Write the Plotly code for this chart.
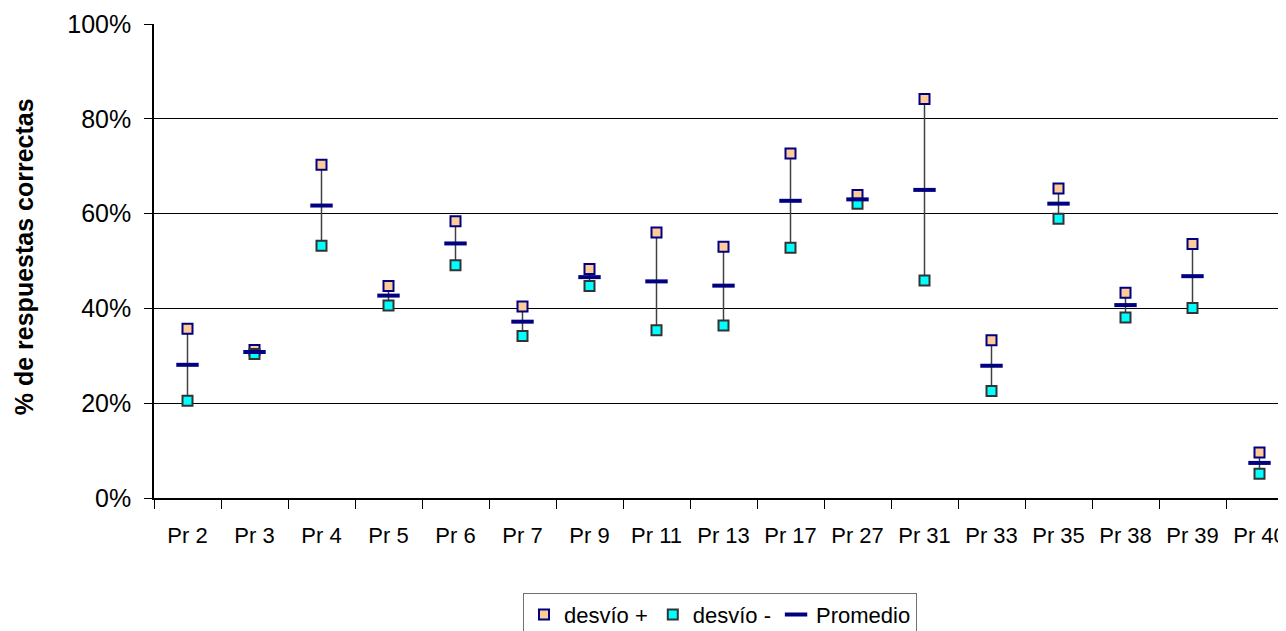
import plotly.graph_objects as go

categories = ["Pr 2", "Pr 3", "Pr 4", "Pr 5", "Pr 6", "Pr 7", "Pr 9", "Pr 11", "Pr 13",
              "Pr 17", "Pr 27", "Pr 31", "Pr 33", "Pr 35", "Pr 38", "Pr 39", "Pr 40"]
desvio_mas = [0.357, 0.312, 0.703, 0.447, 0.584, 0.404, 0.483, 0.560, 0.530,
              0.727, 0.639, 0.842, 0.333, 0.653, 0.433, 0.536, 0.096]
desvio_menos = [0.205, 0.304, 0.532, 0.406, 0.491, 0.342, 0.447, 0.354, 0.364,
                0.528, 0.621, 0.459, 0.226, 0.589, 0.381, 0.401, 0.051]
promedio = [0.281, 0.308, 0.617, 0.427, 0.537, 0.372, 0.466, 0.457, 0.448,
            0.627, 0.630, 0.650, 0.279, 0.621, 0.407, 0.468, 0.074]
y_ticks = [0, 0.2, 0.4, 0.6, 0.8, 1.0]

FONT = "Liberation Sans, Arial, sans-serif"

# high-low connector lines built from the data
lx, ly = [], []
for c, hi, lo in zip(categories, desvio_mas, desvio_menos):
    lx += [c, c, None]
    ly += [hi, lo, None]

fig = go.Figure()
fig.add_trace(go.Scatter(x=lx, y=ly, mode="lines", line=dict(color="#404040", width=1.5),
                         showlegend=False, hoverinfo="skip"))
fig.add_trace(go.Scatter(x=categories, y=desvio_mas, mode="markers", name="desvío +",
                         marker=dict(symbol="square", size=10, color="#FFCC99",
                                     line=dict(color="#000080", width=2))))
fig.add_trace(go.Scatter(x=categories, y=desvio_menos, mode="markers", name="desvío -",
                         marker=dict(symbol="square", size=10, color="#00FFFF",
                                     line=dict(color="#333333", width=2))))
fig.add_trace(go.Scatter(x=categories, y=promedio, mode="markers", name="Promedio",
                         marker=dict(symbol="line-ew", size=16, color="#000080",
                                     line=dict(color="#000080", width=4))))

n = len(categories)
W, H = 1278, 623
L, T, PH = 146, 16, 474
xr = [-0.5, -0.5 + (W - L) / 67]

fig.update_layout(
    width=W, height=H,
    margin=dict(l=L, r=0, t=T, b=H - T - PH, autoexpand=False),
    plot_bgcolor="white", paper_bgcolor="white",
    font=dict(family=FONT, color="black"),
    showlegend=True,
    legend=dict(orientation="h", x=0.5, xanchor="center", y=-0.2, yanchor="top",
                font=dict(size=22, family=FONT), bordercolor="#707070", borderwidth=1,
                bgcolor="white", itemwidth=30),
    xaxis=dict(type="category", categoryorder="array", categoryarray=categories,
               range=xr, tickson="boundaries", ticks="outside", ticklen=9,
               tickcolor="black", tickwidth=1, showline=True, linecolor="black",
               linewidth=1.5, showgrid=False, tickfont=dict(size=22, family=FONT),
               ticklabelstandoff=17),
    yaxis=dict(range=[0, 1], tickvals=y_ticks, tickformat=".0%", ticks="outside",
               ticklen=8, tickcolor="black", showline=True, linecolor="black",
               linewidth=1.5, showgrid=True, gridcolor="black", gridwidth=1,
               zeroline=False, tickfont=dict(size=25, family=FONT), ticklabelstandoff=8),
    xaxis2=dict(overlaying="x", anchor="y", range=xr,
                tickvals=[i + 0.5 for i in range(n - 1)], ticks="inside", ticklen=9,
                tickcolor="black", showticklabels=False, showgrid=False,
                showline=False, zeroline=False),
    yaxis2=dict(overlaying="y", anchor="x", side="left", range=[0, 1], tickvals=y_ticks,
                ticks="inside", ticklen=8, tickcolor="black", showticklabels=False,
                showgrid=False, showline=False, zeroline=False),
    annotations=[dict(text="<b>% de respuestas correctas</b>", xref="paper", yref="paper",
                      x=(24 - 154) / (W - L), y=0.508, xanchor="center", yanchor="middle",
                      textangle=-90, showarrow=False, font=dict(size=25, family=FONT))],
)

fig.write_html("out.html")
